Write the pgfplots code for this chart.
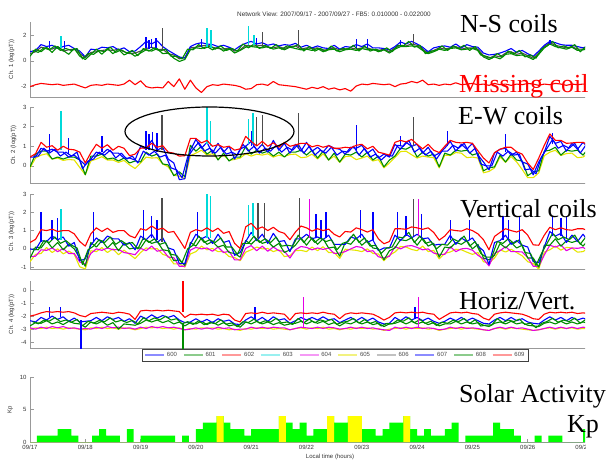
\documentclass[border=0pt]{standalone}
\usepackage{fontspec}
\setmainfont{Liberation Serif}
\setsansfont{Liberation Sans}
\usepackage{pgfplots}
\pgfplotsset{compat=1.18}
\usepackage{pgfplotstable}

\definecolor{mb}{rgb}{0,0,1}
\definecolor{mg}{rgb}{0,0.55,0}
\definecolor{mr}{rgb}{1,0,0}
\definecolor{mc}{rgb}{0,0.85,0.85}
\definecolor{mm}{rgb}{0.9,0,0.9}
\definecolor{my}{rgb}{0.9,0.9,0}
\definecolor{mk}{rgb}{0.3,0.3,0.3}
\definecolor{kpg}{rgb}{0,1,0}
\definecolor{kpy}{rgb}{1,1,0}
\definecolor{axgray}{rgb}{0.6,0.6,0.6}
\newcommand{\tf}{\sffamily\fontsize{6}{7}\selectfont}

% Ch. 1 : blue, green, gray, red (missing coil)
\pgfplotstableread{
d b g k r
0.0 0.7 0.35 0.55 -2.0
0.1 0.8 0.9 0.7 -1.85
0.2 1.25 0.7 1.05 -1.75
0.3 1.1 1.05 0.95 -1.8
0.4 1.2 0.65 0.9 -1.85
0.5 0.95 1.1 1.1 -1.8
0.6 1.1 0.8 0.75 -1.9
0.7 1.2 0.5 0.85 -1.85
0.8 0.95 0.95 0.9 -1.8
0.9 0.75 0.35 0.55 -1.95
1.0 0.3 0.1 0.25 -2.1
1.1 0.9 0.5 0.65 -1.9
1.2 0.85 0.9 0.7 -1.85
1.3 1.05 0.5 0.8 -1.9
1.4 1.0 0.95 0.85 -1.8
1.5 1.1 0.55 0.8 -1.85
1.6 0.85 0.9 0.9 -1.9
1.7 1.0 0.45 0.7 -1.8
1.8 0.7 0.65 0.55 -1.5
1.9 0.75 0.35 0.6 -1.85
2.0 1.1 0.6 0.75 -1.55
2.1 1.5 0.85 0.95 -2.0
2.2 1.3 0.75 1.05 -2.1
2.3 1.55 0.95 0.85 -2.05
2.4 1.1 0.55 0.9 -2.1
2.5 0.8 0.6 0.55 -1.6
2.6 0.55 0.2 0.45 -2.0
2.7 0.3 -0.05 0.15 -1.4
2.8 0.2 0.1 0.25 -2.2
2.9 1.1 0.85 1.0 -1.5
3.0 1.3 1.0 1.05 -2.1
3.1 1.4 0.95 1.15 -2.45
3.2 1.3 1.1 1.2 -2.0
3.3 1.25 0.85 1.05 -1.85
3.4 1.1 1.05 0.95 -1.9
3.5 1.2 0.75 0.9 -1.8
3.6 1.05 0.95 1.0 -1.85
3.7 0.85 0.6 0.75 -1.9
3.8 1.15 0.8 0.85 -2.0
3.9 1.35 1.05 1.2 -2.2
4.0 1.5 1.1 1.15 -2.15
4.1 1.3 1.05 1.15 -1.85
4.2 1.4 1.0 1.2 -1.8
4.3 1.2 1.1 1.05 -1.9
4.4 1.3 0.9 1.0 -1.6
4.5 1.15 1.0 1.1 -1.85
4.6 1.25 0.85 0.95 -1.9
4.7 1.2 1.05 1.1 -1.95
4.8 1.35 0.95 1.15 -2.0
4.9 1.05 0.85 0.9 -2.1
5.0 1.2 0.9 1.0 -2.2
5.1 1.0 0.8 0.95 -2.05
5.2 1.15 0.95 1.0 -2.15
5.3 1.0 0.7 0.8 -2.0
5.4 0.95 0.85 0.9 -2.2
5.5 1.2 0.9 1.0 -2.1
5.6 0.9 0.7 0.85 -2.25
5.7 1.1 0.85 0.9 -2.15
5.8 1.05 0.9 1.0 -2.35
5.9 1.25 0.8 0.9 -1.95
6.0 1.1 0.95 1.0 -1.8
6.1 1.3 0.85 1.0 -1.85
6.2 1.0 0.9 0.85 -1.75
6.3 1.0 0.7 0.8 -1.8
6.4 0.95 0.85 0.9 -1.85
6.5 0.85 0.6 0.7 -1.8
6.6 1.1 0.9 1.0 -2.0
6.7 1.45 1.1 1.2 -1.8
6.8 1.3 1.1 1.15 -1.75
6.9 1.5 1.15 1.3 -1.6
7.0 1.3 1.1 1.2 -1.7
7.1 1.05 0.8 0.9 -1.5
7.2 0.7 0.55 0.6 -1.85
7.3 1.0 0.7 0.8 -1.8
7.4 1.1 0.9 1.0 -1.9
7.5 1.15 0.8 0.9 -1.8
7.6 1.05 0.95 1.0 -1.85
7.7 1.3 1.0 1.1 -1.7
7.8 1.0 0.85 0.9 -1.85
7.9 1.25 0.9 1.0 -1.8
8.0 1.1 0.95 1.0 -1.75
8.1 1.05 0.8 0.9 -1.85
8.2 0.6 0.3 0.4 -1.8
8.3 0.45 0.1 0.2 -1.9
8.4 0.5 0.3 0.4 -1.75
8.5 0.6 0.15 0.3 -1.85
8.6 0.75 0.5 0.6 -1.8
8.7 0.95 0.55 0.7 -1.9
8.8 0.65 0.4 0.5 -1.8
8.9 0.8 0.45 0.6 -1.85
9.0 0.55 0.3 0.4 -1.75
9.1 0.35 0.1 0.2 -1.8
9.2 0.75 0.5 0.6 -1.9
9.3 1.2 1.0 1.1 -1.8
9.4 1.5 1.3 1.4 -1.85
9.5 1.4 1.1 1.2 -1.75
9.6 1.25 1.0 1.1 -1.8
9.7 1.2 0.9 1.0 -1.9
9.8 1.2 1.05 1.1 -1.8
9.9 1.1 0.8 0.9 -1.85
10.0 1.0 0.85 0.9 -1.8
10.1 1.15 0.9 1.0 -1.85
}\tabA

% Ch. 2 : blue, green, red, yellow
\pgfplotstableread{
d b g r y
0.0 0.45 -0.05 0.45 -0.1
0.1 0.45 0.6 0.62 0.4
0.2 0.9 0.75 1.2 0.55
0.3 0.75 0.75 0.95 0.62
0.4 0.85 0.35 1.03 0.35
0.5 0.7 0.45 0.8 0.4
0.6 0.7 0.35 1.0 0.28
0.7 0.45 0.45 0.85 0.33
0.8 0.55 0.45 0.82 0.3
0.9 0.3 0.3 0.7 -0.08
1.0 0.05 -0.45 0.15 -0.45
1.1 0.35 0.5 0.67 0.25
1.2 0.7 0.5 1.1 0.35
1.3 0.6 0.6 0.9 0.47
1.4 0.85 0.35 1.08 0.3
1.5 0.65 0.4 0.8 0.3
1.6 0.65 0.25 1.0 0.18
1.7 0.4 0.4 0.9 0.28
1.8 0.4 0.15 0.52 0.05
1.9 0.3 0.25 0.6 -0.13
2.0 1.0 0.2 0.9 0.15
2.1 0.85 0.7 0.92 0.45
2.2 1.3 0.5 1.15 0.4
2.3 0.8 0.6 0.95 0.42
2.4 0.95 0.1 1.03 0.1
2.5 0.35 0.05 0.7 -0.05
2.6 0.15 -0.5 0.65 -0.47
2.7 -0.7 -0.3 0.5 -0.52
2.8 -0.65 -0.55 0.52 -0.65
2.9 0.8 1.05 1.4 0.52
3.0 1.35 0.75 1.4 0.65
3.1 0.9 1.0 1.17 0.8
3.2 1.2 0.6 1.3 0.55
3.3 0.65 0.8 1.0 0.62
3.4 1.15 0.3 1.08 0.35
3.5 0.7 0.65 0.95 0.55
3.6 1.0 0.25 1.0 0.28
3.7 0.35 0.45 0.8 0.33
3.8 0.85 0.45 0.87 0.4
3.9 1.0 1.0 1.5 0.62
4.0 1.25 0.6 1.25 0.5
4.1 0.8 0.8 1.02 0.6
4.2 1.1 0.65 1.25 0.55
4.3 0.7 0.75 1.0 0.62
4.4 1.3 0.5 1.18 0.45
4.5 0.8 0.7 0.95 0.55
4.6 1.15 0.45 1.2 0.48
4.7 0.65 0.7 1.0 0.58
4.8 1.1 0.7 1.07 0.6
4.9 0.75 0.8 1.15 0.42
5.0 1.2 0.55 1.15 0.45
5.1 0.75 0.8 0.97 0.6
5.2 0.95 0.4 1.05 0.35
5.3 0.7 0.75 0.95 0.62
5.4 1.05 0.3 1.03 0.3
5.5 0.9 0.65 0.9 0.5
5.6 0.85 0.2 0.9 0.18
5.7 0.6 0.6 0.95 0.48
5.8 0.95 0.55 0.92 0.5
5.9 0.9 0.7 1.05 0.32
6.0 1.05 0.45 1.1 0.4
6.1 0.65 0.7 0.87 0.5
6.2 0.85 0.3 1.0 0.25
6.3 0.4 0.5 0.7 0.32
6.4 0.6 -0.05 0.63 -0.1
6.5 0.45 0.3 0.55 0.15
6.6 1.1 0.5 1.2 0.43
6.7 0.85 0.9 1.3 0.73
6.8 1.2 0.85 1.22 0.75
6.9 1.0 1.0 1.35 0.57
7.0 1.1 0.45 1.1 0.4
7.1 0.65 0.7 0.87 0.5
7.2 0.95 0.5 1.1 0.45
7.3 0.5 0.6 0.8 0.42
7.4 0.65 -0.05 0.68 -0.1
7.5 0.9 0.65 1.0 0.55
7.6 1.25 0.55 1.3 0.53
7.7 0.75 0.8 1.2 0.68
7.8 1.1 0.75 1.17 0.65
7.9 0.85 0.8 1.2 0.42
8.0 1.15 0.55 1.15 0.45
8.1 0.55 0.65 0.77 0.4
8.2 0.2 -0.25 0.4 -0.35
8.3 -0.2 -0.1 0.15 -0.28
8.4 0.65 -0.05 0.68 -0.1
8.5 0.85 0.55 0.85 0.45
8.6 0.9 0.2 0.95 0.18
8.7 0.55 0.6 0.95 0.48
8.8 0.7 0.3 0.72 0.2
8.9 0.2 0.25 0.6 -0.18
9.0 0.1 -0.5 0.15 -0.6
9.1 -0.45 -0.3 -0.18 -0.6
9.2 0.2 -0.25 0.4 -0.35
9.3 0.7 0.75 1.05 0.52
9.4 1.5 0.8 1.63 0.7
9.5 1.15 0.95 1.3 0.8
9.6 1.25 0.55 1.3 0.53
9.7 0.75 0.8 1.15 0.63
9.8 1.15 0.75 1.17 0.65
9.9 0.85 0.8 1.2 0.42
10.0 1.2 0.55 1.2 0.45
10.1 0.9 0.9 1.07 0.65
}\tabB

% Ch. 3 : blue, green, red, yellow, magenta
\pgfplotstableread{
d b g r y m
0.0 0 -0.5 0.35 -0.7 -0.42
0.1 -0.05 0.1 0.52 -0.3 -0.4
0.2 0.45 0.05 1.05 -0.25 -0.05
0.3 0.4 0.45 1.0 0.07 -0.08
0.4 0.7 0.05 1.08 -0.2 0.05
0.5 0.5 0.35 0.95 0 -0.15
0.6 0.65 -0.05 1.0 -0.27 0.02
0.7 0.15 0.25 1.0 -0.12 -0.25
0.8 0.35 0 0.82 -0.3 -0.25
0.9 -0.65 -0.5 0.4 -0.98 -0.72
1.0 -0.55 -0.95 0.15 -1.1 -0.82
1.1 0.2 0.35 0.82 -0.1 -0.25
1.2 0.6 0.1 1.15 -0.15 0
1.3 0.35 0.45 0.95 0.07 -0.08
1.4 0.7 0.05 1.13 -0.2 0.05
1.5 0.55 0.35 0.9 0 -0.05
1.6 0.55 -0.1 1.0 -0.32 -0.03
1.7 0.2 0.3 1.0 -0.07 -0.2
1.8 0.35 0 0.72 -0.3 -0.25
1.9 -0.05 0.05 0.6 -0.53 -0.32
2.0 0.7 0.05 1.1 -0.2 0.03
2.1 0.5 0.5 1.02 0.05 -0.1
2.2 0.8 0.3 1.25 0 0.15
2.3 0.35 0.4 1.05 0.02 -0.13
2.4 0.6 -0.05 1.13 -0.3 -0.05
2.5 0.05 -0.1 0.9 -0.4 -0.45
2.6 -0.05 -0.65 0.95 -0.82 -0.48
2.7 -0.8 -0.6 0.5 -0.82 -0.95
2.8 -0.8 -0.9 0.02 -1.0 -0.95
2.9 0.25 0.35 0.9 -0.28 -0.07
3.0 0.8 0.15 1.05 -0.15 0.08
3.1 0.55 0.6 0.97 0.15 0
3.2 0.7 0.25 1.15 -0.05 0.05
3.3 0.3 0.4 0.95 0.02 -0.13
3.4 0.8 0.1 1.13 -0.15 0.1
3.5 0.35 0.2 0.85 -0.15 -0.2
3.6 0.45 -0.2 0.95 -0.42 -0.13
3.7 -0.35 -0.25 0.3 -0.47 -0.6
3.8 -0.2 -0.45 0.02 -0.65 -0.6
3.9 0.4 0.45 1.2 -0.18 0.03
4.0 0.9 0.25 1.4 -0.05 0.18
4.1 0.45 0.55 1.07 0.1 -0.1
4.2 0.8 0.3 1.2 0 0.15
4.3 0.3 0.4 1.0 0.02 -0.13
4.4 0.85 0.1 1.18 -0.15 0.1
4.5 0.4 0.3 0.95 -0.05 -0.1
4.6 0.45 -0.2 0.85 -0.42 -0.13
4.7 -0.15 -0.05 0.5 -0.37 -0.5
4.8 0.55 0.2 0.92 -0.1 -0.05
4.9 0.55 0.6 1.25 -0.08 0.13
5.0 0.8 0.2 1.15 -0.15 0.08
5.1 0.55 0.6 0.97 0.1 -0.05
5.2 0.65 0.25 1.1 -0.1 0.05
5.3 0.5 0.55 1.0 0.12 -0.03
5.4 0.75 0.05 1.08 -0.2 0.05
5.5 0.25 0.1 0.8 -0.2 -0.25
5.6 0.25 -0.4 0.65 -0.52 -0.23
5.7 0.25 0.35 0.95 -0.02 -0.15
5.8 0.65 0.25 0.92 -0.05 0
5.9 0.55 0.6 1.15 -0.08 0.13
6.0 0.8 0.2 1.05 -0.15 0.08
6.1 0.35 0.45 0.92 0 -0.15
6.2 0.5 0.05 1.05 -0.25 -0.1
6.3 -0.1 0 0.55 -0.28 -0.43
6.4 0.05 -0.6 0.28 -0.65 -0.5
6.5 0.05 -0.1 0.4 -0.35 -0.4
6.6 0.75 0.05 1.1 -0.17 0.12
6.7 0.45 0.5 1.1 0.13 0
6.8 0.8 0.45 1.07 0.1 0.15
6.9 0.6 0.6 1.2 -0.03 0.18
7.0 0.8 0.2 1.15 -0.1 0.08
7.1 0.55 0.6 1.07 0.15 -0.05
7.2 0.6 0.15 1.15 -0.15 0
7.3 0.2 0.3 0.9 -0.08 -0.23
7.4 0.25 -0.45 0.48 -0.55 -0.3
7.5 0.25 0.1 0.7 -0.25 -0.3
7.6 0.75 0.05 1.05 -0.17 0.12
7.7 0.25 0.35 1.0 -0.02 -0.15
7.8 0.6 0.25 0.97 -0.05 0
7.9 0.4 0.45 1.1 -0.18 0.03
8.0 0.6 0 1.0 -0.3 -0.07
8.1 0.15 0.25 0.82 -0.2 -0.35
8.2 -0.1 -0.5 0.5 -0.7 -0.55
8.3 -0.85 -0.6 -0.05 -0.78 -0.93
8.4 0.35 -0.35 0.68 -0.5 -0.25
8.5 0.45 0.3 0.9 -0.05 -0.1
8.6 0.75 0.05 1.1 -0.17 0.12
8.7 0.25 0.35 1.0 -0.02 -0.15
8.8 0.45 0.05 0.92 -0.2 -0.15
8.9 0.2 0.2 1.05 -0.38 -0.17
9.0 0.1 -0.5 0.75 -0.7 -0.47
9.1 -0.7 -0.5 0.22 -0.8 -0.95
9.2 -0.75 -1.0 0.2 -1.1 -0.95
9.3 0.1 0.2 0.75 -0.18 -0.33
9.4 0.95 0.2 1.18 -0.05 0.2
9.5 0.7 0.55 1.05 0.15 0.1
9.6 0.85 0.15 1.15 -0.07 0.22
9.7 0.35 0.45 1.05 0.08 -0.1
9.8 0.75 0.35 1.02 0.05 0.05
9.9 0.4 0.45 1.1 -0.18 0.03
10.0 0.8 0.15 1.1 -0.15 0.08
10.1 0.4 0.5 0.97 0.05 -0.1
}\tabC

% Ch. 4 : blue, green, red, yellow, magenta
\pgfplotstableread{
d b g r y m
0.0 -2.35 -2.75 -2.0 -3.0 -2.9
0.1 -2.45 -2.5 -1.9 -2.9 -3.0
0.2 -2.1 -2.55 -1.75 -2.95 -2.85
0.3 -2.3 -2.35 -1.65 -2.85 -2.95
0.4 -2.0 -2.6 -1.7 -2.95 -2.8
0.5 -2.25 -2.45 -1.65 -2.9 -2.9
0.6 -2.05 -2.65 -1.7 -3.0 -2.8
0.7 -2.4 -2.4 -1.65 -2.9 -2.95
0.8 -2.15 -2.55 -1.75 -2.95 -2.9
0.9 -2.45 -2.6 -1.95 -3.0 -3.0
1.0 -2.4 -2.85 -2.05 -3.05 -2.95
1.1 -2.35 -2.45 -1.8 -2.9 -3.0
1.2 -2.1 -2.6 -1.75 -2.95 -2.85
1.3 -2.35 -2.4 -1.7 -2.85 -2.95
1.4 -2.05 -2.7 -1.75 -2.95 -2.8
1.5 -2.25 -2.5 -1.8 -2.9 -2.9
1.6 -2.1 -3.0 -1.7 -3.0 -2.85
1.7 -2.4 -2.6 -1.75 -2.9 -2.95
1.8 -2.2 -2.65 -1.85 -2.95 -2.9
1.9 -2.55 -2.7 -2.25 -3.05 -3.0
2.0 -2.0 -2.55 -1.6 -2.95 -2.85
2.1 -2.2 -2.3 -1.55 -2.85 -2.95
2.2 -1.9 -2.45 -1.6 -2.9 -2.8
2.3 -2.15 -2.3 -1.55 -2.85 -2.9
2.4 -1.95 -2.5 -1.6 -2.95 -2.8
2.5 -2.1 -2.35 -1.55 -2.9 -2.9
2.6 -1.95 -2.6 -1.6 -3.0 -2.85
2.7 -2.3 -2.45 -1.65 -2.9 -2.95
2.8 -2.5 -2.75 -2.1 -3.05 -3.05
2.9 -2.45 -2.5 -1.85 -2.95 -3.0
3.0 -2.2 -2.6 -1.9 -3.0 -2.9
3.1 -2.45 -2.4 -1.85 -2.9 -3.0
3.2 -2.25 -2.65 -1.9 -2.95 -2.9
3.3 -2.5 -2.45 -1.85 -2.9 -3.0
3.4 -2.2 -2.7 -1.95 -3.0 -2.85
3.5 -2.4 -2.5 -1.85 -2.95 -2.95
3.6 -2.3 -2.75 -1.9 -3.05 -2.9
3.7 -2.6 -2.65 -2.3 -3.0 -3.05
3.8 -2.65 -2.85 -2.45 -3.1 -3.0
3.9 -2.3 -2.45 -1.8 -2.95 -3.0
4.0 -2.05 -2.6 -1.75 -3.0 -2.85
4.1 -2.35 -2.4 -1.8 -2.9 -2.95
4.2 -2.1 -2.6 -1.7 -2.95 -2.85
4.3 -2.4 -2.45 -1.8 -2.9 -2.95
4.4 -2.05 -2.65 -1.75 -3.0 -2.85
4.5 -2.3 -2.5 -1.8 -2.95 -2.9
4.6 -2.2 -2.7 -1.85 -3.0 -2.9
4.7 -2.55 -2.6 -2.3 -3.05 -3.05
4.8 -2.35 -2.55 -1.8 -2.95 -2.95
4.9 -2.1 -2.4 -1.75 -2.9 -2.85
5.0 -2.3 -2.6 -1.8 -3.0 -2.9
5.1 -2.1 -2.4 -1.75 -2.9 -2.95
5.2 -2.3 -2.55 -1.8 -2.95 -2.85
5.3 -2.05 -2.4 -1.7 -2.85 -2.95
5.4 -2.3 -2.65 -1.8 -3.0 -2.85
5.5 -2.2 -2.5 -1.85 -2.95 -2.9
5.6 -2.5 -2.75 -2.2 -3.05 -3.0
5.7 -2.3 -2.5 -1.85 -2.95 -2.95
5.8 -2.1 -2.6 -1.75 -3.0 -2.85
5.9 -2.35 -2.4 -1.8 -2.9 -2.95
6.0 -2.1 -2.6 -1.75 -2.95 -2.85
6.1 -2.35 -2.45 -1.8 -2.9 -2.95
6.2 -2.15 -2.65 -1.85 -3.0 -2.9
6.3 -2.45 -2.55 -2.05 -2.95 -3.0
6.4 -2.6 -2.8 -2.3 -3.1 -3.05
6.5 -2.55 -2.6 -2.1 -3.0 -3.1
6.6 -2.1 -2.55 -1.75 -2.95 -2.85
6.7 -2.35 -2.4 -1.7 -2.9 -2.95
6.8 -2.05 -2.6 -1.75 -3.0 -2.85
6.9 -2.3 -2.4 -1.7 -2.9 -2.95
7.0 -2.1 -2.6 -1.75 -2.95 -2.85
7.1 -2.35 -2.45 -1.7 -2.9 -2.95
7.2 -2.15 -2.65 -1.8 -3.0 -2.9
7.3 -2.4 -2.5 -1.85 -2.95 -2.95
7.4 -2.55 -2.75 -2.25 -3.1 -3.05
7.5 -2.4 -2.6 -2.0 -3.0 -3.0
7.6 -2.15 -2.6 -1.75 -2.95 -2.85
7.7 -2.35 -2.4 -1.7 -2.9 -2.95
7.8 -2.1 -2.6 -1.75 -3.0 -2.85
7.9 -2.35 -2.45 -1.7 -2.9 -2.95
8.0 -2.15 -2.6 -1.8 -2.95 -2.9
8.1 -2.35 -2.5 -1.85 -3.0 -2.95
8.2 -2.55 -2.7 -2.15 -3.05 -3.05
8.3 -2.6 -2.8 -2.3 -3.1 -3.1
8.4 -2.3 -2.55 -1.85 -2.95 -2.95
8.5 -2.1 -2.45 -1.75 -2.9 -2.85
8.6 -2.35 -2.6 -1.7 -3.0 -2.95
8.7 -2.1 -2.4 -1.75 -2.9 -2.85
8.8 -2.35 -2.6 -1.8 -2.95 -2.95
8.9 -2.2 -2.5 -1.85 -3.0 -2.9
9.0 -2.45 -2.7 -2.0 -3.05 -3.0
9.1 -2.55 -2.75 -2.2 -3.1 -3.1
9.2 -2.6 -2.8 -2.25 -3.05 -3.05
9.3 -2.3 -2.55 -1.85 -2.95 -2.95
9.4 -2.05 -2.45 -1.7 -2.9 -2.85
9.5 -2.3 -2.6 -1.75 -3.0 -2.95
9.6 -2.1 -2.4 -1.7 -2.9 -2.85
9.7 -2.35 -2.6 -1.75 -2.95 -2.95
9.8 -2.1 -2.45 -1.7 -2.9 -2.85
9.9 -2.3 -2.6 -1.8 -3.0 -2.95
10.0 -2.15 -2.45 -1.75 -2.95 -2.85
10.1 -2.3 -2.55 -1.8 -2.95 -2.9
}\tabD

% further stations (608 / 607), sampled between the rows above: Ch.1 Ch.2 Ch.3 Ch.4
\pgfplotstableread{
d a1 a2 a3 a4
0.05 0.8 0.5 0.0 -2.43
0.15 0.65 0.5 -0.05 -2.59
0.25 1.0 0.9 0.45 -2.31
0.35 0.85 0.65 0.35 -2.38
0.45 1.15 0.85 0.65 -2.12
0.55 0.8 0.5 0.3 -2.42
0.65 0.95 0.7 0.45 -2.3
0.75 0.8 0.5 0.2 -2.47
0.85 0.95 0.7 0.05 -2.25
0.95 0.15 -0.15 -0.85 -2.74
1.05 0.55 0.25 -0.05 -2.4
1.15 0.5 0.35 0.15 -2.54
1.25 0.8 0.7 0.5 -2.34
1.35 0.7 0.55 0.35 -2.43
1.45 1.05 0.8 0.65 -2.14
1.55 0.65 0.4 0.25 -2.45
1.65 0.85 0.65 0.45 -2.32
1.75 0.6 0.35 0.25 -2.49
1.85 0.8 0.5 0.35 -2.33
1.95 0.4 0.15 0.0 -2.59
2.05 0.95 0.75 0.6 -2.13
2.15 0.75 0.55 0.35 -2.36
2.25 1.0 0.75 0.55 -2.14
2.35 0.75 0.45 0.25 -2.28
2.45 0.9 0.55 0.35 -2.02
2.55 0.35 -0.1 -0.3 -2.3
2.65 0.35 -0.2 -0.35 -2.2
2.75 0.15 -0.6 -0.75 -2.59
2.85 0.9 0.45 0.0 -2.43
2.95 0.85 0.85 0.2 -2.64
3.05 1.25 1.2 0.7 -2.36
3.15 0.95 0.75 0.35 -2.66
3.25 1.15 0.9 0.5 -2.49
3.35 0.9 0.65 0.35 -2.58
3.45 1.15 0.95 0.6 -2.29
3.55 0.8 0.6 0.1 -2.62
3.65 0.95 0.7 0.1 -2.52
3.75 0.75 0.55 -0.3 -2.82
3.85 1.3 1.1 0.3 -2.43
3.95 1.0 0.75 0.3 -2.49
4.05 1.3 1.0 0.7 -2.23
4.15 0.95 0.65 0.35 -2.54
4.25 1.2 0.9 0.55 -2.36
4.35 0.95 0.75 0.35 -2.46
4.45 1.25 1.05 0.65 -2.17
4.55 0.9 0.7 0.15 -2.52
4.65 1.15 0.95 0.2 -2.45
4.75 1.05 0.8 0.15 -2.64
4.85 1.25 1.1 0.75 -2.18
4.95 0.75 0.65 0.35 -2.51
5.05 1.1 1.0 0.7 -2.23
5.15 0.75 0.55 0.35 -2.51
5.25 0.95 0.8 0.6 -2.29
5.35 0.75 0.65 0.4 -2.41
5.45 1.15 0.95 0.5 -2.24
5.55 0.75 0.55 -0.05 -2.62
5.65 0.95 0.75 0.3 -2.47
5.75 0.9 0.7 0.4 -2.39
5.85 1.2 1.0 0.8 -2.18
5.95 0.75 0.55 0.35 -2.54
6.05 1.15 0.9 0.6 -2.26
6.15 0.75 0.45 0.15 -2.56
6.25 0.9 0.6 0.2 -2.41
6.35 0.75 0.3 -0.25 -2.76
6.45 1.0 0.55 0.05 -2.57
6.55 0.7 0.5 0.1 -2.6
6.65 1.2 1.05 0.65 -2.3
6.75 1.15 1.0 0.6 -2.39
6.85 1.5 1.3 0.9 -2.13
6.95 1.05 0.7 0.35 -2.51
7.05 1.2 0.9 0.7 -2.26
7.15 0.55 0.55 0.3 -2.56
7.25 0.75 0.75 0.4 -2.39
7.35 0.8 0.35 0.0 -2.71
7.45 1.15 0.75 0.25 -2.47
7.55 0.8 0.75 0.2 -2.55
7.65 1.15 1.05 0.55 -2.32
7.75 0.95 0.9 0.4 -2.42
7.85 1.2 1.15 0.7 -2.18
7.95 0.8 0.65 0.15 -2.56
8.05 1.1 0.9 0.4 -2.28
8.15 0.45 0.1 -0.25 -2.76
8.25 0.35 0.0 -0.45 -2.69
8.35 0.2 0.0 -0.45 -2.68
8.45 0.55 0.7 0.4 -2.19
8.55 0.3 0.5 0.3 -2.5
8.65 0.75 0.75 0.55 -2.3
8.75 0.55 0.55 0.3 -2.42
8.85 0.8 0.6 0.5 -2.23
8.95 0.3 -0.2 -0.2 -2.64
9.05 0.45 -0.15 -0.25 -2.53
9.15 0.2 -0.4 -0.9 -2.89
9.25 0.9 0.45 -0.25 -2.56
9.35 1.15 0.9 0.3 -2.41
9.45 1.5 1.35 0.85 -2.17
9.55 1.0 0.9 0.5 -2.47
9.65 1.15 1.05 0.65 -2.3
9.75 1.0 0.9 0.5 -2.42
9.85 1.25 1.15 0.75 -2.15
9.95 0.7 0.65 0.25 -2.54
10.05 1.1 1.05 0.65 -2.26
}\tabX

% spikes: x, y (pairs separated by nan rows)
\pgfplotstableread[row sep=\\]{x y\\ -1 nan\\
0.35 1.0\\ 0.35 1.5\\ 0.35 nan\\ 0.62 0.9\\ 0.62 1.55\\ 0.62 nan\\
2.1 1.0\\ 2.1 1.85\\ 2.1 nan\\ 2.15 0.9\\ 2.15 1.6\\ 2.15 nan\\ 2.2 1.0\\ 2.2 1.7\\ 2.2 nan\\
2.28 1.0\\ 2.28 1.8\\ 2.28 nan\\ 3.1 1.1\\ 3.1 1.65\\ 3.1 nan\\ 4.1 1.2\\ 4.1 1.75\\ 4.1 nan\\
5.9 1.0\\ 5.9 1.65\\ 5.9 nan\\ 6.1 1.0\\ 6.1 1.7\\ 6.1 nan\\ 6.7 1.2\\ 6.7 1.6\\ 6.7 nan\\ 9.4 1.3\\ 9.4 1.6\\
}\sAb
\pgfplotstableread[row sep=\\]{x y\\ -1 nan\\
0.56 1.0\\ 0.56 1.9\\ 0.56 nan\\ 3.2 1.1\\ 3.2 2.55\\ 3.2 nan\\
3.27 1.0\\ 3.27 2.4\\ 3.27 nan\\ 3.95 1.2\\ 3.95 2.7\\ 3.95 nan\\ 4.05 1.2\\ 4.05 2.0\\
}\sAc
\pgfplotstableread[row sep=\\]{x y\\ -1 nan\\
2.4 0.9\\ 2.4 2.5\\ 2.4 nan\\ 4.2 1.2\\ 4.2 2.2\\ 4.2 nan\\
4.85 1.1\\ 4.85 2.4\\ 4.85 nan\\ 6.93 1.2\\ 6.93 2.1\\
}\sAk
\pgfplotstableread[row sep=\\]{x y\\ -1 nan\\
0.35 0.7\\ 0.35 1.6\\ 0.35 nan\\ 0.7 0.6\\ 0.7 1.4\\ 0.7 nan\\
1.3 0.7\\ 1.3 1.5\\ 1.3 nan\\ 2.1 0.8\\ 2.1 1.8\\ 2.1 nan\\ 2.15 0.8\\ 2.15 1.6\\ 2.15 nan\\
2.22 0.8\\ 2.22 1.75\\ 2.22 nan\\ 2.3 0.7\\ 2.3 1.7\\ 2.3 nan\\ 4.0 1.0\\ 4.0 1.8\\ 4.0 nan\\
5.9 0.8\\ 5.9 2.1\\ 5.9 nan\\ 6.7 1.0\\ 6.7 1.5\\ 6.7 nan\\ 7.55 1.0\\ 7.55 1.8\\ 7.55 nan\\
8.6 0.7\\ 8.6 1.6\\ 8.6 nan\\ 9.45 1.1\\ 9.45 1.7\\
}\sBb
\pgfplotstableread[row sep=\\]{x y\\ -1 nan\\
0.56 0.8\\ 0.56 2.8\\ 0.56 nan\\ 3.2 1.1\\ 3.2 3.0\\ 3.2 nan\\
3.26 1.0\\ 3.26 2.3\\ 3.26 nan\\ 3.95 1.1\\ 3.95 2.4\\ 3.95 nan\\ 4.03 1.1\\ 4.03 2.7\\
}\sBc
\pgfplotstableread[row sep=\\]{x y\\ -1 nan\\
2.39 0.8\\ 2.39 2.6\\ 2.39 nan\\ 4.1 1.0\\ 4.1 2.5\\ 4.1 nan\\
4.2 1.0\\ 4.2 2.6\\ 4.2 nan\\ 4.85 0.9\\ 4.85 2.7\\ 4.85 nan\\ 6.94 1.0\\ 6.94 2.5\\
}\sBk
\pgfplotstableread[row sep=\\]{x y\\ -1 nan\\
0.2 0.4\\ 0.2 2.0\\ 0.2 nan\\ 0.4 0.5\\ 0.4 1.6\\ 0.4 nan\\ 0.5 0.5\\ 0.5 1.7\\ 0.5 nan\\
1.15 0.4\\ 1.15 2.0\\ 1.15 nan\\ 2.05 0.5\\ 2.05 2.1\\ 2.05 nan\\ 2.2 0.6\\ 2.2 1.8\\ 2.2 nan\\
2.3 0.5\\ 2.3 1.6\\ 2.3 nan\\ 3.03 0.6\\ 3.03 2.0\\ 3.03 nan\\ 5.17 0.6\\ 5.17 1.9\\ 5.17 nan\\
5.26 0.6\\ 5.26 1.6\\ 5.26 nan\\ 5.35 0.6\\ 5.35 2.0\\ 5.35 nan\\ 5.98 0.6\\ 5.98 2.1\\ 5.98 nan\\
6.2 0.5\\ 6.2 2.0\\ 6.2 nan\\ 6.65 0.6\\ 6.65 2.0\\ 6.65 nan\\ 6.8 0.7\\ 6.8 1.8\\ 6.8 nan\\
7.08 0.6\\ 7.08 1.9\\ 7.08 nan\\ 7.6 0.5\\ 7.6 1.6\\ 7.6 nan\\ 7.95 0.5\\ 7.95 1.6\\ 7.95 nan\\
8.55 0.5\\ 8.55 1.8\\ 8.55 nan\\ 8.65 0.5\\ 8.65 1.6\\ 8.65 nan\\ 8.85 0.4\\ 8.85 1.8\\ 8.85 nan\\
9.45 0.7\\ 9.45 1.8\\ 9.45 nan\\ 9.6 0.7\\ 9.6 1.7\\ 9.6 nan\\ 9.7 0.6\\ 9.7 1.8\\
}\sCb
\pgfplotstableread[row sep=\\]{x y\\ -1 nan\\
0.56 0.5\\ 0.56 2.2\\ 0.56 nan\\ 3.2 0.6\\ 3.2 3.0\\ 3.2 nan\\
3.26 0.6\\ 3.26 2.9\\ 3.26 nan\\ 3.95 0.7\\ 3.95 2.4\\ 3.95 nan\\ 4.03 0.7\\ 4.03 2.5\\
}\sCc
\pgfplotstableread[row sep=\\]{x y\\ -1 nan\\
2.39 0.4\\ 2.39 2.8\\ 2.39 nan\\ 4.12 0.6\\ 4.12 2.5\\ 4.12 nan\\
4.24 0.6\\ 4.24 2.5\\ 4.24 nan\\ 4.87 0.6\\ 4.87 2.8\\ 4.87 nan\\ 6.94 0.7\\ 6.94 2.7\\
}\sCk
\pgfplotstableread[row sep=\\]{x y\\ -1 nan\\
5.05 0.6\\ 5.05 2.7\\ 5.05 nan\\ 7.02 0.7\\ 7.02 2.7\\
}\sCm
\pgfplotstableread[row sep=\\]{x y\\ -1 nan\\
0.92 -2.3\\ 0.92 -4.6\\ 0.92 nan\\ 4.07 -2.2\\ 4.07 -1.3\\ 4.07 nan\\
6.96 -2.2\\ 6.96 -1.3\\ 6.96 nan\\ 0.35 -2.1\\ 0.35 -1.3\\ 0.35 nan\\ 0.55 -2.1\\ 0.55 -1.3\\
}\sDb
\pgfplotstableread[row sep=\\]{x y\\ -1 nan\\ 2.77 -2.5\\ 2.77 -4.6\\}\sDg
\pgfplotstableread[row sep=\\]{x y\\ -1 nan\\ 4.95 -2.8\\ 4.95 -0.5\\ 4.95 nan\\ 7.02 -2.8\\ 7.02 -0.5\\}\sDm
\pgfplotstableread[row sep=\\]{x y\\ -1 nan\\ 2.77 -1.7\\ 2.77 0.7\\}\sDr

\pgfplotsset{
  panel/.style={
    scale only axis, width=600pt, xmin=0, xmax=10.85,
    axis lines=left, axis line style={-, draw=axgray, line width=0.9pt},
    major tick style={draw=axgray, line width=0.5pt},
    tick align=inside, major tick length=3.5pt,
    xtick=\empty,
    ticklabel style={font=\tf, text=black!80},
    /pgf/number format/assume math mode=true,
    ylabel style={font=\tf, text=black!80},
    xlabel style={font=\tf, text=black!80},
    unbounded coords=jump,
    every axis plot/.append style={line width=1.1pt, line join=round},
  },
  spk/.style={line width=1.4pt},
}
\newcommand{\spike}[2]{\addplot[draw=#1, color=#1, spk, forget plot] table[x=x,y=y] {#2};}
\newcommand{\legimg}[1]{\addlegendimage{legend image code/.code={\draw[draw=#1, line width=1.6pt] (0pt,0pt) -- (19pt,0pt);}}}

\begin{document}
\begin{tikzpicture}
\useasboundingbox (0,0) rectangle (609pt,-462pt);
\begin{scope}
\clip (0,0) rectangle (585pt,-462pt);

% ---------- Ch. 1
\begin{axis}[panel, at={(30pt,-22pt)}, anchor=north west, height=75pt,
  ymin=-2.8, ymax=3, ytick={-2,0,2}, ylabel={Ch. 1 (log(pT))}]
\addplot[mk] table[x=d,y=k] {\tabA};
\addplot[mb] table[x=d,y=b] {\tabA};
\addplot[mg] table[x=d,y=g] {\tabA};
\addplot[mg] table[x=d,y=a1] {\tabX};
\spike{mb}{\sAb}
\spike{mc}{\sAc}
\spike{mk}{\sAk}
\addplot[mr] table[x=d,y=r] {\tabA};
\end{axis}

% ---------- Ch. 2
\begin{axis}[panel, at={(30pt,-107pt)}, anchor=north west, height=76pt,
  ymin=-0.87, ymax=3, ytick={0,1,2,3}, ylabel={Ch. 2 (log(pT))}]
\addplot[my] table[x=d,y=y] {\tabB};
\addplot[mg] table[x=d,y=g] {\tabB};
\addplot[mb] table[x=d,y=b] {\tabB};
\addplot[mb] table[x=d,y=a2] {\tabX};
\spike{mb}{\sBb}
\spike{mc}{\sBc}
\spike{mk}{\sBk}
\addplot[mr] table[x=d,y=r] {\tabB};
\end{axis}

% ---------- Ch. 3
\begin{axis}[panel, at={(30pt,-194pt)}, anchor=north west, height=75pt,
  ymin=-1.1, ymax=3, ytick={-1,0,1,2,3}, ylabel={Ch. 3 (log(pT))}]
\addplot[my] table[x=d,y=y] {\tabC};
\addplot[mm] table[x=d,y=m] {\tabC};
\addplot[mg] table[x=d,y=g] {\tabC};
\addplot[mb] table[x=d,y=b] {\tabC};
\addplot[mg] table[x=d,y=a3] {\tabX};
\spike{mb}{\sCb}
\spike{mc}{\sCc}
\spike{mk}{\sCk}
\spike{mm}{\sCm}
\addplot[mr] table[x=d,y=r] {\tabC};
\end{axis}

% ---------- Ch. 4
\begin{axis}[panel, at={(30pt,-281pt)}, anchor=north west, height=67pt,
  ymin=-4.45, ymax=0.7, ytick={-4,-3,-2,-1,0}, ylabel={Ch. 4 (log(pT))},
  legend columns=10,
  legend style={at={(0.509,-0.012)}, anchor=north, draw=black!75, line width=0.7pt,
    font=\tf, text=black!70, inner xsep=2pt, inner ysep=1.2pt,
    /tikz/every even column/.append style={column sep=4pt}},
  legend cell align=left]
\addplot[my, forget plot] table[x=d,y=y] {\tabD};
\addplot[mm, forget plot] table[x=d,y=m] {\tabD};
\addplot[mg, forget plot] table[x=d,y=g] {\tabD};
\addplot[mb, forget plot] table[x=d,y=b] {\tabD};
\addplot[mg, forget plot] table[x=d,y=a4] {\tabX};
\spike{mb}{\sDb}
\spike{mg}{\sDg}
\spike{mm}{\sDm}
\addplot[mr, forget plot] table[x=d,y=r] {\tabD};
\spike{mr}{\sDr}
\legimg{mb!45}\addlegendentry{600}
\legimg{mg!45}\addlegendentry{601}
\legimg{mr!40}\addlegendentry{602}
\legimg{mc!40}\addlegendentry{603}
\legimg{mm!40}\addlegendentry{604}
\legimg{my!50}\addlegendentry{605}
\legimg{mk!35}\addlegendentry{606}
\legimg{mb!45}\addlegendentry{607}
\legimg{mg!45}\addlegendentry{608}
\legimg{mr!40}\addlegendentry{609}
\end{axis}

% ---------- Kp
\begin{axis}[panel, at={(30pt,-377pt)}, anchor=north west, height=65pt,
  ymin=0, ymax=10, ytick={0,5,10}, ylabel={Kp},
  xtick={0,1,2,3,4,5,6,7,8,9,10},
  xticklabels={09/17,09/18,09/19,09/20,09/21,09/22,09/23,09/24,09/25,09/26,09/27},
  xlabel={Local time (hours)}, xlabel style={yshift=3pt}]
\addplot[const plot, fill=kpg, draw=none] coordinates {
(0,0) (0.125,1) (0.25,1) (0.375,1) (0.5,2) (0.625,2) (0.75,1) (0.875,0)
(1,0) (1.125,1) (1.25,2) (1.375,1) (1.5,1) (1.625,0) (1.75,2) (1.875,0)
(2,1) (2.125,1) (2.25,1) (2.375,1) (2.5,1) (2.625,0) (2.75,1) (2.875,0)
(3,2) (3.125,3) (3.25,3) (3.375,4) (3.5,3) (3.625,2) (3.75,2) (3.875,1)
(4,2) (4.125,2) (4.25,2) (4.375,2) (4.5,4) (4.625,3) (4.75,2) (4.875,3)
(5,1) (5.125,2) (5.25,2) (5.375,4) (5.5,3) (5.625,3) (5.75,4) (5.875,4)
(6,2) (6.125,2) (6.25,1) (6.375,2) (6.5,3) (6.625,3) (6.75,4) (6.875,2)
(7,1) (7.125,2) (7.25,1) (7.375,1) (7.5,2) (7.625,3) (7.75,0) (7.875,1)
(8,1) (8.125,1) (8.25,1) (8.375,3) (8.5,2) (8.625,2) (8.75,1) (8.875,0)
(9,0) (9.125,1) (9.25,0) (9.375,1) (9.5,1) (9.625,0) (9.75,0) (9.875,0)
(10,2) (10.125,2) (10.25,0)} \closedcycle;
\addplot[const plot, fill=kpy, draw=none] coordinates {
(0,0) (3.375,4) (3.5,0) (4.5,4) (4.625,0) (5.375,4) (5.5,0) (5.75,4) (6,0) (6.75,4) (6.875,0)} \closedcycle;
\end{axis}
\end{scope}

% ---------- title and annotations
\node[font=\sffamily\fontsize{6.4}{7}\selectfont, text=black!80, inner sep=0] at (334pt,-14pt)
  {Network View: 2007/09/17 - 2007/09/27 - FB5: 0.010000 - 0.022000};
\draw[line width=1.2pt] (209.5pt,-131.5pt) ellipse [x radius=84.5pt, y radius=24.5pt];
\begin{scope}[every node/.style={anchor=base west, inner sep=0, font=\fontsize{26}{28}\selectfont}]
\node at (460pt,-33pt) {N-S coils};
\node[text=red] at (459pt,-93pt) {Missing coil};
\node at (458pt,-125pt) {E-W coils};
\node at (460pt,-217pt) {Vertical coils};
\node at (459pt,-309pt) {Horiz/Vert.};
\node at (459pt,-402pt) {Solar Activity};
\node at (567pt,-432pt) {Kp};
\end{scope}
\end{tikzpicture}
\end{document}
